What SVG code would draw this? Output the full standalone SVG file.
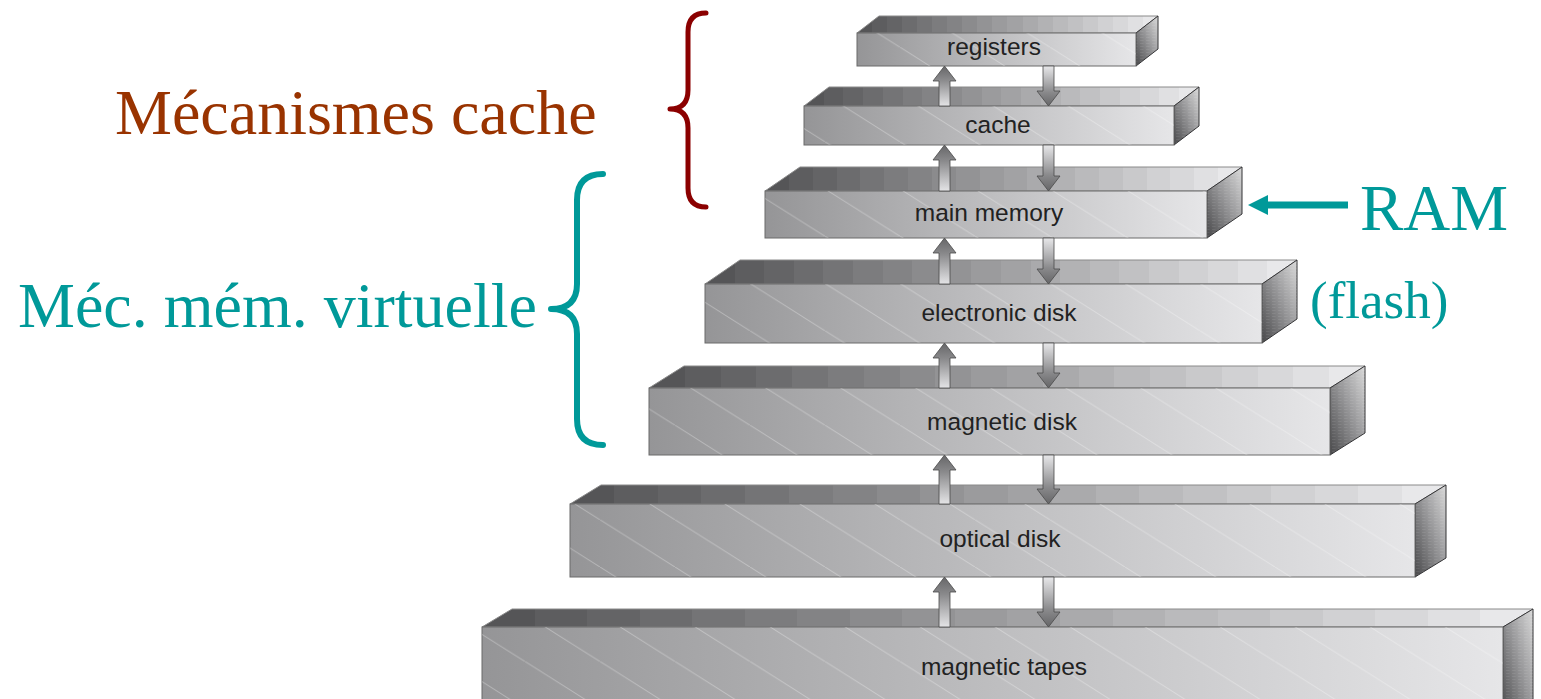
<svg xmlns="http://www.w3.org/2000/svg" width="1541" height="699" viewBox="0 0 1541 699">
  <defs>
    <!-- stepped shading of the top faces, dark at the left, light at the right -->
    <linearGradient id="topFace" x1="0" y1="0" x2="1" y2="0">
      <stop offset="0" stop-color="#555557"/><stop offset="0.05" stop-color="#555557"/>
      <stop offset="0.05" stop-color="#5d5d5f"/><stop offset="0.10" stop-color="#5d5d5f"/>
      <stop offset="0.10" stop-color="#646466"/><stop offset="0.15" stop-color="#646466"/>
      <stop offset="0.15" stop-color="#6c6c6e"/><stop offset="0.20" stop-color="#6c6c6e"/>
      <stop offset="0.20" stop-color="#747476"/><stop offset="0.25" stop-color="#747476"/>
      <stop offset="0.25" stop-color="#7c7c7e"/><stop offset="0.30" stop-color="#7c7c7e"/>
      <stop offset="0.30" stop-color="#838385"/><stop offset="0.35" stop-color="#838385"/>
      <stop offset="0.35" stop-color="#8b8b8d"/><stop offset="0.40" stop-color="#8b8b8d"/>
      <stop offset="0.40" stop-color="#939395"/><stop offset="0.45" stop-color="#939395"/>
      <stop offset="0.45" stop-color="#9b9b9d"/><stop offset="0.50" stop-color="#9b9b9d"/>
      <stop offset="0.50" stop-color="#a2a2a4"/><stop offset="0.55" stop-color="#a2a2a4"/>
      <stop offset="0.55" stop-color="#aaaaac"/><stop offset="0.60" stop-color="#aaaaac"/>
      <stop offset="0.60" stop-color="#b2b2b4"/><stop offset="0.65" stop-color="#b2b2b4"/>
      <stop offset="0.65" stop-color="#bababc"/><stop offset="0.70" stop-color="#bababc"/>
      <stop offset="0.70" stop-color="#c1c1c3"/><stop offset="0.75" stop-color="#c1c1c3"/>
      <stop offset="0.75" stop-color="#c9c9cb"/><stop offset="0.80" stop-color="#c9c9cb"/>
      <stop offset="0.80" stop-color="#d1d1d3"/><stop offset="0.85" stop-color="#d1d1d3"/>
      <stop offset="0.85" stop-color="#d8d8da"/><stop offset="0.90" stop-color="#d8d8da"/>
      <stop offset="0.90" stop-color="#e0e0e2"/><stop offset="0.95" stop-color="#e0e0e2"/>
      <stop offset="0.95" stop-color="#e8e8ea"/><stop offset="1" stop-color="#e8e8ea"/>
    </linearGradient>
    <linearGradient id="frontFace" x1="0" y1="0" x2="1" y2="0">
      <stop offset="0" stop-color="#959597"/>
      <stop offset="1" stop-color="#e6e6e8"/>
    </linearGradient>
    <linearGradient id="sideFace" x1="1" y1="0" x2="0" y2="1">
      <stop offset="0" stop-color="#dadada"/>
      <stop offset="0.45" stop-color="#9a9a9c"/>
      <stop offset="1" stop-color="#48484a"/>
    </linearGradient>
    <!-- faint diagonal streaks across the front faces -->
    <pattern id="streaks" patternUnits="userSpaceOnUse" width="75" height="47.25">
      <line x1="0" y1="0" x2="75" y2="47.25" stroke="#ffffff" stroke-opacity="0.3" stroke-width="1"/>
    </pattern>
    <!-- fine dashed texture on the side faces -->
    <pattern id="dashes" patternUnits="userSpaceOnUse" width="6" height="3">
      <line x1="0" y1="1.5" x2="3.5" y2="1.5" stroke="#ffffff" stroke-opacity="0.08" stroke-width="1"/>
    </pattern>
    <linearGradient id="arrowUp" x1="0" y1="0" x2="0" y2="1">
      <stop offset="0" stop-color="#666668"/>
      <stop offset="0.35" stop-color="#8a8a8c"/>
      <stop offset="1" stop-color="#e4e4e6"/>
    </linearGradient>
    <linearGradient id="arrowDown" x1="0" y1="1" x2="0" y2="0">
      <stop offset="0" stop-color="#666668"/>
      <stop offset="0.35" stop-color="#8a8a8c"/>
      <stop offset="1" stop-color="#e8e8ea"/>
    </linearGradient>
    <style>
      .top { fill: url(#topFace); stroke: #8a8a8a; stroke-width: 1; }
      .front { fill: url(#frontFace); stroke: #6a6a6a; stroke-width: 1; }
      .streak { fill: url(#streaks); }
      .side { fill: url(#sideFace); stroke: #333335; stroke-width: 1; }
      .sideTex { fill: url(#dashes); }
      .lbl { font-family: "Liberation Sans", Arial, sans-serif; font-size: 24.5px; fill: #222222; text-anchor: middle; }
      .up { fill: url(#arrowUp); stroke: #4a4a4a; stroke-width: 0.8; }
      .down { fill: url(#arrowDown); stroke: #4a4a4a; stroke-width: 0.8; }
      .serif { font-family: "Liberation Serif", "Times New Roman", serif; }
      .brace { fill: none; stroke-linecap: round; stroke-linejoin: round; }
    </style>
  </defs>

  <rect width="1541" height="699" fill="#ffffff"/>

  <!-- storage levels, smallest at the top -->
  <g id="box-registers">
    <polygon class="top" points="857,33 879,16 1158,16 1136,33"/>
    <polygon class="side" points="1136,33 1158,16 1158,49 1136,66"/>
    <polygon class="sideTex" points="1136,33 1158,16 1158,49 1136,66"/>
    <rect class="front" x="857" y="33" width="279" height="33"/>
    <rect class="streak" x="857" y="33" width="279" height="33"/>
    <text class="lbl" x="994" y="55">registers</text>
  </g>

  <g id="box-cache">
    <polygon class="top" points="804,106 829,87 1199,87 1174,106"/>
    <polygon class="side" points="1174,106 1199,87 1199,126 1174,145"/>
    <polygon class="sideTex" points="1174,106 1199,87 1199,126 1174,145"/>
    <rect class="front" x="804" y="106" width="370" height="39"/>
    <rect class="streak" x="804" y="106" width="370" height="39"/>
    <text class="lbl" x="998" y="133">cache</text>
  </g>

  <g id="box-main-memory">
    <polygon class="top" points="765,191 800,167 1242,167 1207,191"/>
    <polygon class="side" points="1207,191 1242,167 1242,214 1207,238"/>
    <polygon class="sideTex" points="1207,191 1242,167 1242,214 1207,238"/>
    <rect class="front" x="765" y="191" width="442" height="47"/>
    <rect class="streak" x="765" y="191" width="442" height="47"/>
    <text class="lbl" x="989" y="221">main memory</text>
  </g>

  <g id="box-electronic-disk">
    <polygon class="top" points="705,284 740,260 1297,260 1262,284"/>
    <polygon class="side" points="1262,284 1297,260 1297,319 1262,343"/>
    <polygon class="sideTex" points="1262,284 1297,260 1297,319 1262,343"/>
    <rect class="front" x="705" y="284" width="557" height="59"/>
    <rect class="streak" x="705" y="284" width="557" height="59"/>
    <text class="lbl" x="999" y="321">electronic disk</text>
  </g>

  <g id="box-magnetic-disk">
    <polygon class="top" points="649,388 684,366 1365,366 1330,388"/>
    <polygon class="side" points="1330,388 1365,366 1365,433 1330,455"/>
    <polygon class="sideTex" points="1330,388 1365,366 1365,433 1330,455"/>
    <rect class="front" x="649" y="388" width="681" height="67"/>
    <rect class="streak" x="649" y="388" width="681" height="67"/>
    <text class="lbl" x="1002" y="430">magnetic disk</text>
  </g>

  <g id="box-optical-disk">
    <polygon class="top" points="570,504 601,485 1446,485 1415,504"/>
    <polygon class="side" points="1415,504 1446,485 1446,558 1415,577"/>
    <polygon class="sideTex" points="1415,504 1446,485 1446,558 1415,577"/>
    <rect class="front" x="570" y="504" width="845" height="73"/>
    <rect class="streak" x="570" y="504" width="845" height="73"/>
    <text class="lbl" x="1000" y="547">optical disk</text>
  </g>

  <g id="box-magnetic-tapes">
    <polygon class="top" points="482,627 512,609 1533,609 1503,627"/>
    <polygon class="side" points="1503,627 1533,609 1533,702 1503,720"/>
    <polygon class="sideTex" points="1503,627 1533,609 1533,702 1503,720"/>
    <rect class="front" x="482" y="627" width="1021" height="93"/>
    <rect class="streak" x="482" y="627" width="1021" height="93"/>
    <text class="lbl" x="1004" y="675">magnetic tapes</text>
  </g>

  <!-- transfers between adjacent levels: up on the left, down on the right -->
  <g id="connectors">
    <polygon class="up" points="944.5,66 956,81 950,81 950,106 939,106 939,81 933,81"/>
    <polygon class="down" points="1048.5,106 1060,91 1054,91 1054,66 1043,66 1043,91 1037,91"/>

    <polygon class="up" points="944.5,145 956,160 950,160 950,191 939,191 939,160 933,160"/>
    <polygon class="down" points="1048.5,191 1060,176 1054,176 1054,145 1043,145 1043,176 1037,176"/>

    <polygon class="up" points="944.5,238 956,253 950,253 950,284 939,284 939,253 933,253"/>
    <polygon class="down" points="1048.5,284 1060,269 1054,269 1054,238 1043,238 1043,269 1037,269"/>

    <polygon class="up" points="944.5,343 956,358 950,358 950,388 939,388 939,358 933,358"/>
    <polygon class="down" points="1048.5,388 1060,373 1054,373 1054,343 1043,343 1043,373 1037,373"/>

    <polygon class="up" points="944.5,455 956,470 950,470 950,504 939,504 939,470 933,470"/>
    <polygon class="down" points="1048.5,504 1060,489 1054,489 1054,455 1043,455 1043,489 1037,489"/>

    <polygon class="up" points="944.5,577 956,592 950,592 950,627 939,627 939,592 933,592"/>
    <polygon class="down" points="1048.5,627 1060,612 1054,612 1054,577 1043,577 1043,612 1037,612"/>
  </g>

  <!-- annotations -->
  <g id="note-cache">
    <path class="brace" stroke="#8b0000" stroke-width="5" d="M 706 13 Q 688 13 688 32 L 688 90 Q 688 109 670 109 Q 688 109 688 128 L 688 188 Q 688 207 706 207"/>
    <text class="serif" x="115" y="134" font-size="64" fill="#993300">Mécanismes cache</text>
  </g>

  <g id="note-virtual">
    <path class="brace" stroke="#009999" stroke-width="6" d="M 603 174 Q 577 174 577 200 L 577 284 Q 577 309 551 309 Q 577 309 577 334 L 577 419 Q 577 445 603 445"/>
    <text class="serif" x="18" y="327" font-size="64" fill="#009999">Méc. mém. virtuelle</text>
  </g>

  <g id="note-ram">
    <line x1="1264" y1="205" x2="1348" y2="205" stroke="#009999" stroke-width="7"/>
    <polygon points="1248,205 1268,195 1268,215" fill="#009999"/>
    <text class="serif" x="1360" y="230" font-size="65" fill="#009999">RAM</text>
  </g>

  <g id="note-flash">
    <text class="serif" x="1310" y="318" font-size="53" fill="#009999">(flash)</text>
  </g>
</svg>
